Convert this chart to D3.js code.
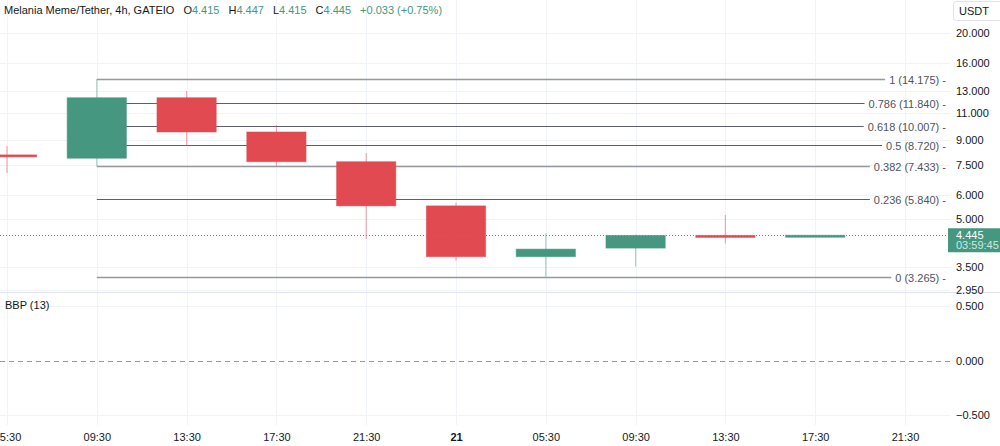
<!DOCTYPE html>
<html>
<head>
<meta charset="utf-8">
<script src="https://cdn.jsdelivr.net/npm/d3@7"></script>
<style>
  body { margin: 0; background: #fff; }
  svg { display: block; font-family: "Liberation Sans", Arial, sans-serif; }
</style>
</head>
<body>
<div id="chart"></div>
<script>
// candle data, 4h bars
const times = ["2025-01-20T05:30", "2025-01-20T09:30", "2025-01-20T13:30", "2025-01-20T17:30",
  "2025-01-20T21:30", "2025-01-21T01:30", "2025-01-21T05:30", "2025-01-21T09:30",
  "2025-01-21T13:30", "2025-01-21T17:30"];
const opens = [8.08, 7.88, 12.36, 9.58, 7.68, 5.53, 3.79, 4.04, 4.44, 4.415];
const highs = [8.63, 14.175, 13.0, 10.09, 8.19, 5.66, 4.51, 4.46, 5.17, 4.447];
const lows = [7.06, 7.43, 8.68, 7.44, 4.32, 3.68, 3.265, 3.52, 4.19, 4.415];
const closes = [7.96, 12.36, 9.58, 7.68, 5.53, 3.79, 4.01, 4.44, 4.412, 4.445];

// axis ticks
const timeTicks = ["2025-01-20T05:30", "2025-01-20T09:30", "2025-01-20T13:30", "2025-01-20T17:30",
  "2025-01-20T21:30", "2025-01-21T01:30", "2025-01-21T05:30", "2025-01-21T09:30",
  "2025-01-21T13:30", "2025-01-21T17:30", "2025-01-21T21:30"];
const timeLabels = ["05:30", "09:30", "13:30", "17:30", "21:30", "21", "05:30", "09:30", "13:30", "17:30", "21:30"];
const priceTicks = [20, 16, 13, 11, 9, 7.5, 6, 5, 3.5, 2.95];
const bbpTicks = [0.5, 0, -0.5];

// fib retracement
const fibHigh = 14.175;
const fibLow = 3.265;
const fibStart = "2025-01-20T09:30";
const fibLevels = [1, 0.786, 0.618, 0.5, 0.382, 0.236, 0];

const lastPrice = 4.445;
const countdown = "03:59:45";

const width = 1000, height = 446;
const axisX = 950;
const mainBottom = 292;
const subBottom = 425;

const green = "#45977f", red = "#e04a50";
const parse = d3.timeParse("%Y-%m-%dT%H:%M");

const svg = d3.select("#chart").append("svg")
    .attr("width", width)
    .attr("height", height);

const x = d3.scaleTime()
    .domain([parse(timeTicks[0]), parse(timeTicks[timeTicks.length - 1])])
    .range([7, 905]);
const y = d3.scaleLog().domain([2.915, 25.56]).range([mainBottom, 0]);
const yBbp = d3.scaleLinear().domain([-0.5, 0.5]).range([415, 306]);

const step = x(parse(timeTicks[1])) - x(parse(timeTicks[0]));
const candleW = step * 0.66;

// grid
const grid = svg.append("g").attr("stroke", "#f0f3fa").attr("stroke-width", 1);
grid.selectAll(".vg").data(timeTicks).join("line")
    .attr("x1", d => Math.round(x(parse(d))) + 0.5).attr("x2", d => Math.round(x(parse(d))) + 0.5)
    .attr("y1", 0).attr("y2", subBottom);
grid.selectAll(".hg").data(priceTicks).join("line")
    .attr("x1", 0).attr("x2", axisX)
    .attr("y1", d => Math.round(y(d)) + 0.5).attr("y2", d => Math.round(y(d)) + 0.5);
grid.selectAll(".bg").data(bbpTicks.filter(d => d !== 0)).join("line")
    .attr("x1", 0).attr("x2", axisX)
    .attr("y1", d => Math.round(yBbp(d)) + 0.5).attr("y2", d => Math.round(yBbp(d)) + 0.5);

// pane separator
svg.append("line")
    .attr("x1", 0).attr("x2", width)
    .attr("y1", mainBottom + 0.5).attr("y2", mainBottom + 0.5)
    .attr("stroke", "#e0e3eb");

// fib retracement lines
const fibG = svg.append("g");
const fibX0 = x(parse(fibStart));
fibLevels.forEach(lv => {
    const val = fibLow + (fibHigh - fibLow) * lv;
    const yy = Math.round(y(val)) + 0.5;
    const light = (lv === 1 || lv === 0.382 || lv === 0);
    const label = `${lv} (${val.toFixed(3)}) -`;
    const t = fibG.append("text")
        .attr("x", 946).attr("y", yy + 4)
        .attr("text-anchor", "end")
        .attr("font-size", 11)
        .attr("fill", "#50535e")
        .text(label);
    const tw = t.node().getComputedTextLength();
    fibG.insert("line", "text")
        .attr("x1", fibX0).attr("x2", 946 - tw - 4)
        .attr("y1", yy).attr("y2", yy)
        .attr("stroke", light ? "#9598a1" : "#5d606b")
        .attr("stroke-width", light ? 1.6 : 1.1);
});

// candles
const candles = svg.append("g");
times.forEach((t, i) => {
    const cx = x(parse(t));
    const up = closes[i] >= opens[i];
    const col = up ? green : red;
    candles.append("line")
        .attr("x1", cx).attr("x2", cx)
        .attr("y1", y(highs[i])).attr("y2", y(lows[i]))
        .attr("stroke", col).attr("stroke-opacity", 0.45).attr("stroke-width", 1.2);
    const top = y(Math.max(opens[i], closes[i]));
    const bot = y(Math.min(opens[i], closes[i]));
    candles.append("rect")
        .attr("x", cx - candleW / 2).attr("width", candleW)
        .attr("y", top).attr("height", Math.max(2, bot - top))
        .attr("fill", col)
        .attr("stroke", col).attr("stroke-opacity", 0.5).attr("stroke-width", 1);
});

// last price dotted line
svg.append("line")
    .attr("x1", 0).attr("x2", axisX)
    .attr("y1", Math.round(y(lastPrice)) + 0.5).attr("y2", Math.round(y(lastPrice)) + 0.5)
    .attr("stroke", green).attr("stroke-width", 1).attr("stroke-dasharray", "1,2");

// price axis
const pAxis = svg.append("g")
    .attr("transform", `translate(${axisX},0)`)
    .call(d3.axisRight(y).tickValues(priceTicks).tickFormat(d3.format(".3f")).tickSize(0).tickPadding(6));
pAxis.select(".domain").remove();
pAxis.selectAll("text").attr("font-size", 11).attr("fill", "#131722")
    .attr("font-family", "Liberation Sans, Arial, sans-serif");

// last price label
const ly = y(lastPrice);
svg.append("rect")
    .attr("x", 948).attr("y", ly - 7).attr("width", 52).attr("height", 24)
    .attr("fill", green);
svg.append("text").attr("x", 956).attr("y", ly + 4)
    .attr("font-size", 11).attr("fill", "#fff").text(d3.format(".3f")(lastPrice));
svg.append("text").attr("x", 956).attr("y", ly + 14)
    .attr("font-size", 11).attr("fill", "#cfe8e0").text(countdown);

// USDT badge
svg.append("rect")
    .attr("x", 953.5).attr("y", 1.5).attr("width", 50).attr("height", 19).attr("rx", 3)
    .attr("fill", "#fff").attr("stroke", "#e0e3eb");
svg.append("text").attr("x", 959).attr("y", 15)
    .attr("font-size", 11).attr("fill", "#131722").text("USDT");

// header
const head = svg.append("text").attr("x", 4).attr("y", 14).attr("font-size", 11).attr("fill", "#131722");
head.append("tspan").text("Melania Meme/Tether, 4h, GATEIO");
const last = times.length - 1;
[["O", opens[last]], ["H", highs[last]], ["L", lows[last]], ["C", closes[last]]].forEach(([k, v]) => {
    head.append("tspan").attr("dx", 9).text(k);
    head.append("tspan").attr("fill", green).text(d3.format(".3f")(v));
});
const chg = closes[last] - closes[last - 1];
head.append("tspan").attr("dx", 9).attr("fill", green)
    .text(`+${chg.toFixed(3)} (+${(chg / closes[last - 1] * 100).toFixed(2)}%)`);

// BBP pane
svg.append("text").attr("x", 5).attr("y", 309).attr("font-size", 11).attr("fill", "#131722").text("BBP (13)");
svg.append("line")
    .attr("x1", 0).attr("x2", axisX)
    .attr("y1", Math.round(yBbp(0)) + 0.5).attr("y2", Math.round(yBbp(0)) + 0.5)
    .attr("stroke", "#9598a1").attr("stroke-dasharray", "5,4");
const bAxis = svg.append("g")
    .attr("transform", `translate(${axisX},0)`)
    .call(d3.axisRight(yBbp).tickValues(bbpTicks).tickFormat(d => d < 0 ? "\u2212" + d3.format(".3f")(-d) : d3.format(".3f")(d)).tickSize(0).tickPadding(6));
bAxis.select(".domain").remove();
bAxis.selectAll("text").attr("font-size", 11).attr("fill", "#131722")
    .attr("font-family", "Liberation Sans, Arial, sans-serif");

// time axis
const tAxis = svg.append("g")
    .attr("transform", `translate(0,${subBottom})`)
    .call(d3.axisBottom(x).tickValues(timeTicks.map(parse)).tickFormat((d, i) => timeLabels[i]).tickSize(0).tickPadding(8));
tAxis.select(".domain").remove();
tAxis.selectAll("text").attr("font-size", 11).attr("fill", "#131722")
    .attr("font-family", "Liberation Sans, Arial, sans-serif")
    .attr("font-weight", (d, i) => timeLabels[i] === "21" ? "bold" : null);
</script>
</body>
</html>
